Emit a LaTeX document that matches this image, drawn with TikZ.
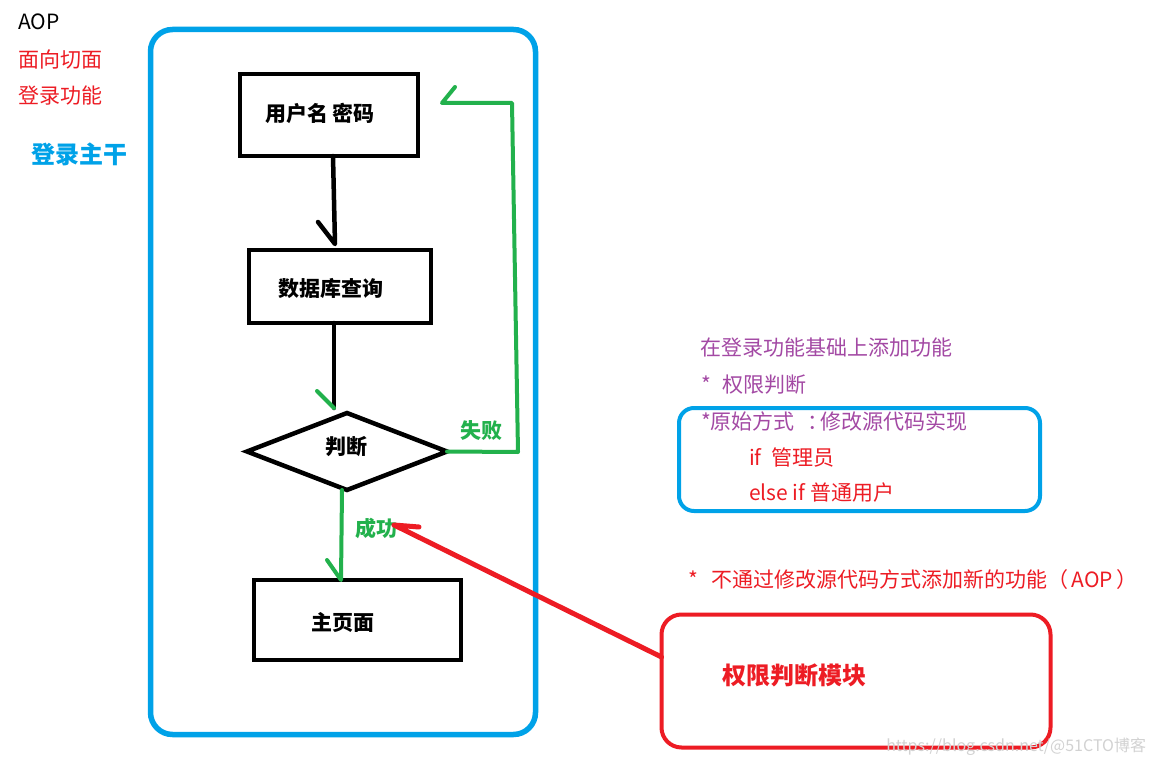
\documentclass[tikz,border=0pt]{standalone}
\usepackage{fontspec}
\setmainfont{Noto Sans CJK SC}
\usetikzlibrary{shapes.geometric}
\definecolor{pblue}{HTML}{00A2E8}
\definecolor{pred}{HTML}{ED1C24}
\definecolor{pgreen}{HTML}{22B14C}
\definecolor{ppurple}{HTML}{A349A4}
\begin{document}
\begin{tikzpicture}[x=1pt,y=-1pt,
  every node/.style={inner sep=0pt, outer sep=0pt},
  txt/.style={font=\fontsize{21pt}{25pt}\selectfont, anchor=west},
  btxt/.style={font=\fontsize{21pt}{25pt}\selectfont\bfseries},
  bigb/.style={font=\fontsize{24pt}{28pt}\selectfont\bfseries},
  flowbox/.style={draw=black, line width=4.5pt, rectangle},
  frame/.style={line width=4pt},
  blk/.style={draw=black, line width=4.5pt, line join=round, line cap=round},
  grn/.style={draw=pgreen, line width=4pt, line join=round, line cap=round},
  redl/.style={draw=pred, line width=5pt, line join=round, line cap=round},
]
\useasboundingbox[fill=white] (0,0) rectangle (1154,765);

% frames
\node[draw=pblue, frame, line width=5.5pt, rounded corners=22pt, minimum width=385pt, minimum height=705pt] (main) at (343,382) {};
\node[draw=pblue, frame, rounded corners=15pt, minimum width=361pt, minimum height=103pt] (orig) at (859.5,459.5) {};
\node[draw=pred, frame, rounded corners=20pt, minimum width=389pt, minimum height=133pt] (r) at (856,681) {};

% left texts
\node[txt] (aop) at (18,22) {AOP};
\node[txt, text=pred] (t1) at (19,59) {面向切面};
\node[txt, text=pred] (t2) at (19,96) {登录功能};
\node[bigb, text=pblue, anchor=west] (trunk) at (31,154) {登录主干};

% flow nodes
\node[flowbox, minimum width=178pt, minimum height=82pt] (u) at (329,115) {};
\node[btxt] (ut) at (320,113) {用户名 密码};
\node[flowbox, minimum width=182pt, minimum height=73pt] (d) at (340,286.5) {};
\node[btxt] (dt) at (331,289) {数据库查询};
\node[diamond, draw=black, line width=4.5pt, minimum width=200pt, minimum height=77pt] (j) at (347,451.5) {};
\node[btxt] (jt) at (346,447) {判断};
\node[flowbox, minimum width=207pt, minimum height=80pt] (m) at (357.5,620) {};
\node[btxt] (mt) at (342.5,622) {主页面};

\node[btxt, text=pgreen] (fail) at (481,431) {失败};
\node[btxt, text=pgreen] (succ) at (376,528) {成功};

% connectors
\draw[blk] ([xshift=4pt]u.south) -- ([xshift=-5pt,yshift=6pt]d.north) -- ++(-17,-22);
\draw[blk] ([xshift=-6pt]d.south) -- ([xshift=-13pt,yshift=5pt]j.north);
\draw[grn] ([xshift=-13pt,yshift=5pt]j.north) -- ++(-17,-17);
\coordinate (g1) at (518,452);
\coordinate (g2) at (512,103);
\coordinate (gt) at (442,103);
\draw[grn] (j.east) -- (g1) -- (g2) -- (gt) -- ++(13,-16);
\draw[grn] ([xshift=-5pt]j.south) -- ([xshift=-16.5pt]m.north) -- ++(-14,-20);
\draw[redl] ([yshift=24pt]r.west) -- ([xshift=-3pt,yshift=3pt]succ.east) -- ++(25,2);

% right texts
\node[txt, text=ppurple] (p1) at (700,348) {在登录功能基础上添加功能};
\node[txt, text=ppurple] (p2) at (701,385) {*\hspace{12pt}权限判断};
\node[txt, text=ppurple] (p3) at (701,421) {*原始方式 \hspace{8pt}：\hspace{-8pt}修改源代码实现};
\node[txt, text=pred] (p4) at (749,458) {if\hspace{10pt}管理员};
\node[txt, text=pred] (p5) at (749,493) {else if 普通用户};
\node[txt, text=pred] (note) at (688,580) {*\hspace{14pt}不通过修改源代码方式添加新的功能（\hspace{3pt}AOP\hspace{3pt}）};
\node[bigb, text=pred, anchor=west] (rt) at (722,675) {权限判断模块};

\node[anchor=east, text=gray!35, font=\fontsize{16pt}{18pt}\selectfont] (wm) at (1146,747) {https://blog.csdn.net/@51CTO博客};
\end{tikzpicture}
\end{document}
